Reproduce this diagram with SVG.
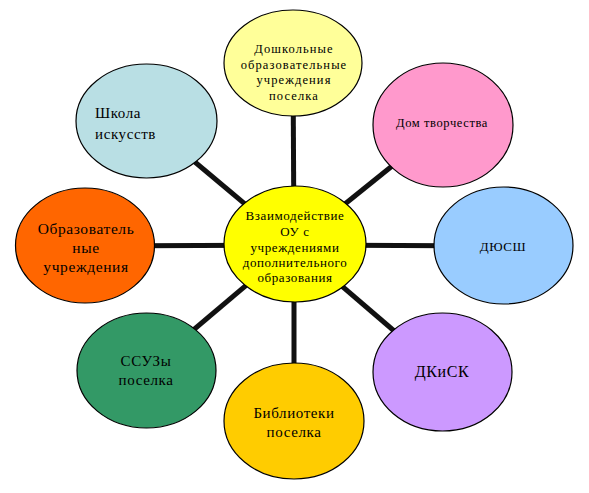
<svg xmlns="http://www.w3.org/2000/svg" width="589" height="493" viewBox="0 0 589 493">
<style>
.n{stroke:#000;stroke-width:1.2}
.t{font-family:"Liberation Serif","Times New Roman",serif;fill:#000;text-anchor:middle;letter-spacing:0.6px}
.c{stroke:#111;stroke-width:5}
</style>
<rect width="589" height="493" fill="#fff"/>
<g id="connectors">
<line class="c" x1="294" y1="245" x2="293" y2="63"/>
<line class="c" x1="294" y1="245" x2="443" y2="125"/>
<line class="c" x1="294" y1="245" x2="503" y2="246"/>
<line class="c" x1="294" y1="245" x2="442" y2="372"/>
<line class="c" x1="294" y1="245" x2="294" y2="421"/>
<line class="c" x1="294" y1="245" x2="146" y2="370"/>
<line class="c" x1="294" y1="245" x2="85" y2="246"/>
<line class="c" x1="294" y1="245" x2="146" y2="121"/>
</g>
<g id="preschool">
<ellipse class="n" cx="293" cy="63" rx="69" ry="53" fill="#FFFF99"/>
<text class="t" font-size="12.5" style="letter-spacing:1.1px"><tspan x="294" y="53">Дошкольные</tspan><tspan x="294" y="69">образовательные</tspan><tspan x="294" y="84">учреждения</tspan><tspan x="294" y="100">поселка</tspan></text>
</g>
<g id="dom">
<ellipse class="n" cx="443" cy="125" rx="70" ry="62" fill="#FF99CC"/>
<text class="t" font-size="12.5" x="442" y="127">Дом творчества</text>
</g>
<g id="dyussh">
<ellipse class="n" cx="503.5" cy="245.5" rx="69.5" ry="58.5" fill="#99CCFF"/>
<text class="t" font-size="13" x="503" y="251">ДЮСШ</text>
</g>
<g id="dkisk">
<ellipse class="n" cx="442.5" cy="372" rx="69.5" ry="59" fill="#CC99FF"/>
<text class="t" font-size="16" x="442" y="377">ДКиСК</text>
</g>
<g id="library">
<ellipse class="n" cx="294" cy="421" rx="70" ry="58" fill="#FFCC00"/>
<text class="t" font-size="15"><tspan x="294" y="418">Библиотеки</tspan><tspan x="294" y="437">поселка</tspan></text>
</g>
<g id="ssuz">
<ellipse class="n" cx="146.5" cy="370.5" rx="69.5" ry="57.5" fill="#339966"/>
<text class="t" font-size="15"><tspan x="146" y="366">ССУЗы</tspan><tspan x="146" y="385">поселка</tspan></text>
</g>
<g id="education">
<ellipse class="n" cx="85" cy="245.5" rx="69.5" ry="57.5" fill="#FF6600"/>
<text class="t" font-size="15.5"><tspan x="86" y="234">Образователь</tspan><tspan x="86" y="253">ные</tspan><tspan x="86" y="272">учреждения</tspan></text>
</g>
<g id="artschool">
<ellipse class="n" cx="146.5" cy="121" rx="70.5" ry="57" fill="#B9DFE4"/>
<text class="t" font-size="15" style="text-anchor:start"><tspan x="95" y="118">Школа</tspan><tspan x="95" y="139">искусств</tspan></text>
</g>
<g id="center">
<ellipse class="n" cx="295" cy="244" rx="71" ry="58" fill="#FFFF00"/>
<text class="t" font-size="13"><tspan x="295" y="220">Взаимодействие</tspan><tspan x="295" y="236">ОУ с</tspan><tspan x="295" y="252">учреждениями</tspan><tspan x="295" y="267">дополнительного</tspan><tspan x="295" y="282">образования</tspan></text>
</g>
</svg>
